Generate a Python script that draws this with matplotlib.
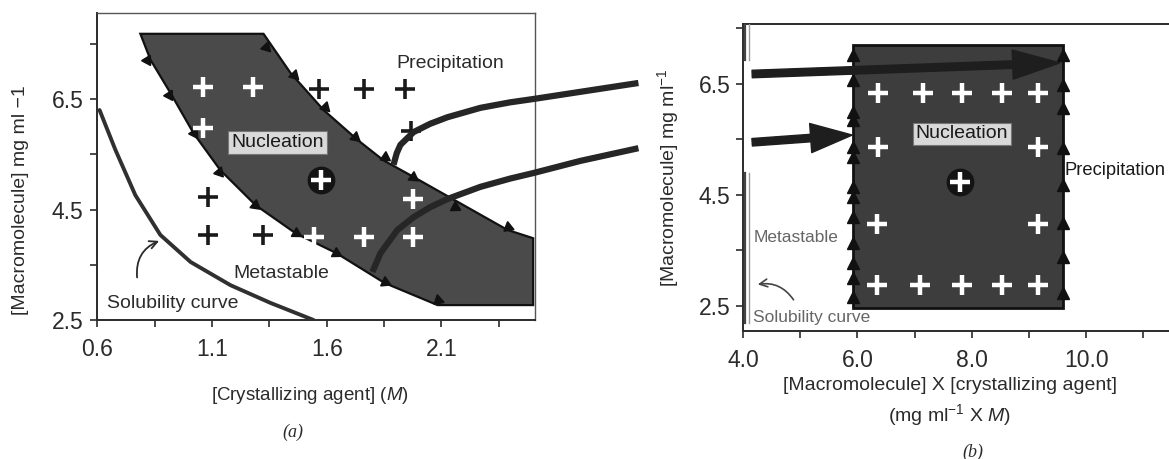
import numpy as np
import matplotlib
matplotlib.use("Agg")
import matplotlib.pyplot as plt
from matplotlib.patches import Polygon, Rectangle

plt.rcParams['font.family'] = ['Liberation Sans', 'DejaVu Sans']
plt.rcParams['mathtext.fontset'] = 'custom'
plt.rcParams['mathtext.rm'] = 'Liberation Sans'
plt.rcParams['mathtext.it'] = 'Liberation Sans:italic'

# ---------------- panel (a): [crystallizing agent] vs [macromolecule]
a_xticks = [0.6, 1.1, 1.6, 2.1]
a_xminor = [0.85, 1.35, 1.85, 2.35]
a_yticks = [2.5, 4.5, 6.5]
a_yminor = [3.5, 5.5, 7.5]

sol_x = [0.609, 0.678, 0.765, 0.874, 1.006, 1.180, 1.354, 1.542]
sol_y = [6.30, 5.58, 4.76, 4.04, 3.55, 3.13, 2.81, 2.50]

# nucleation zone outline (clockwise from top-left)
nuc_x = [0.787, 1.324, 1.442, 1.586, 1.734, 1.847, 1.978, 2.170, 2.388, 2.50,
         2.50, 2.083, 1.852, 1.642, 1.464, 1.289, 1.136, 1.019, 0.918, 0.831]
nuc_y = [7.68, 7.68, 6.97, 6.30, 5.76, 5.39, 5.09, 4.64, 4.13, 3.98,
         2.77, 2.77, 3.17, 3.71, 4.07, 4.58, 5.21, 5.88, 6.61, 7.21]

tri_up_x = [1.337, 1.455, 1.594, 1.721, 1.852, 1.978, 2.161, 2.392]
tri_up_y = [7.44, 6.93, 6.36, 5.81, 5.45, 5.09, 4.55, 4.18]
tri_lo_x = [0.814, 0.910, 1.019, 1.128, 1.289, 1.464, 1.642, 1.852, 2.087]
tri_lo_y = [7.21, 6.57, 5.88, 5.18, 4.58, 4.07, 3.71, 3.19, 2.86]

a_white_x = [1.058, 1.276, 1.058, 1.546, 1.764, 1.974, 1.974]
a_white_y = [6.72, 6.72, 5.98, 4.00, 4.00, 4.69, 4.00]
a_black_x = [1.564, 1.764, 1.943, 1.969, 1.080, 1.080, 1.320]
a_black_y = [6.68, 6.68, 6.68, 5.92, 4.73, 4.04, 4.04]
a_circle = (1.573, 5.03)

# the two thick curves leaving panel (a)
up_x = [1.891, 1.905, 1.921, 1.978, 2.050, 2.126, 2.270, 2.400, 2.501, 2.706, 2.959]
up_y = [5.31, 5.52, 5.67, 5.90, 6.05, 6.17, 6.34, 6.44, 6.50, 6.63, 6.79]
lo_x = [1.799, 1.834, 1.908, 1.978, 2.050, 2.126, 2.270, 2.400, 2.501, 2.706, 2.959]
lo_y = [3.37, 3.71, 4.13, 4.36, 4.54, 4.69, 4.91, 5.06, 5.16, 5.38, 5.61]

# ---------------- panel (b): product vs [macromolecule]
b_xticks = [4.0, 6.0, 8.0, 10.0]
b_xminor = [5.0, 7.0, 9.0, 11.0]
b_yticks = [2.5, 4.5, 6.5]
b_yminor = [3.5, 5.5, 7.5]

b_box = (5.92, 2.46, 9.59, 7.20)   # x0, y0, x1, y1
b_plus_x = [6.36, 7.15, 7.83, 8.53, 9.16, 6.36, 9.16, 6.34, 9.16,
            6.34, 7.09, 7.83, 8.53, 9.16]
b_plus_y = [6.34, 6.34, 6.34, 6.34, 6.34, 5.36, 5.36, 3.98, 3.98,
            2.88, 2.88, 2.88, 2.88, 2.88]
b_circle = (7.79, 4.73)
b_tri_left_y = [7.02, 6.57, 5.99, 5.85, 5.36, 5.18, 4.64, 4.46, 4.10, 3.64, 3.27, 3.00, 2.66]
b_tri_right_y = [7.02, 6.48, 6.07, 5.35, 4.68, 3.99, 3.38, 2.73]
b_sol_segs = [(7.58, 6.93), (4.90, 2.19)]
b_arrow_up = ((4.16, 6.68), (9.54, 6.88))
b_arrow_lo = ((4.16, 5.45), (5.91, 5.58))

W, H = 1169, 459
fig = plt.figure(figsize=(W / 100, H / 100), dpi=100)
fig.patch.set_facecolor('white')

def px_axes(l, t, r, b):
    return fig.add_axes([l / W, 1 - b / H, (r - l) / W, (b - t) / H])

ink = '#2b2b2b'

# ======== panel (a)
ax = px_axes(97.5, 13, 535, 320)
ax.set_xlim(0.6, 0.6 + (535 - 97.5) / 229.3)
ax.set_ylim(2.5, 2.5 + (320 - 13) / 55.25)
ax.set_xticks(a_xticks)
ax.set_xticklabels([f"{v:.1f}" for v in a_xticks])
ax.set_xticks(a_xminor, minor=True)
ax.set_yticks(a_yticks)
ax.set_yticklabels([f"{v:.1f}" for v in a_yticks])
ax.set_yticks(a_yminor, minor=True)
ax.tick_params(which='both', direction='out', length=5, width=1.2, color=ink)
ax.tick_params(axis='x', labelsize=16.5, pad=8, labelcolor=ink)
ax.tick_params(axis='y', labelsize=16.5, pad=5, labelcolor=ink)
for s in ['left', 'bottom']:
    ax.spines[s].set_linewidth(1.4)
    ax.spines[s].set_color(ink)
for s in ['top', 'right']:
    ax.spines[s].set_linewidth(1.0)
    ax.spines[s].set_color('#555555')

ax.add_patch(Polygon(np.column_stack([nuc_x, nuc_y]), closed=True,
                     facecolor='#4a4a4a', edgecolor='#111111', lw=1.6, zorder=2))
ax.plot(sol_x, sol_y, color='#303030', lw=2.8, solid_capstyle='round', zorder=3)

def tri_marks(axx, xs, ys):
    pts = axx.transData.transform(np.column_stack([xs, ys]))
    d = np.gradient(pts, axis=0)
    ang = np.degrees(np.arctan2(d[:, 1], d[:, 0])) - 90
    for x, y, a in zip(xs, ys, ang):
        axx.plot(x, y, marker=(3, 0, a), ms=8.5, color='#111111', zorder=4)

tri_marks(ax, tri_up_x, tri_up_y)
tri_marks(ax, tri_lo_x, tri_lo_y)

ax.plot(a_white_x, a_white_y, ls='none', marker='+', ms=14, mew=3.2, color='white', zorder=5)
ax.plot(a_black_x, a_black_y, ls='none', marker='+', ms=14, mew=2.6, color='#1a1a1a', zorder=5)
ax.plot(*a_circle, marker='o', ms=19, color='#141414', zorder=5)
ax.plot(*a_circle, marker='+', ms=14, mew=3.2, color='white', zorder=6)

ax.plot(up_x, up_y, color='#262626', lw=4.5, solid_capstyle='butt', solid_joinstyle='round',
        clip_on=False, zorder=7)
ax.plot(lo_x, lo_y, color='#262626', lw=4.5, solid_capstyle='butt', solid_joinstyle='round',
        clip_on=False, zorder=7)

ax.text(2.14, 7.15, "Precipitation", fontsize=14, color=ink, ha='center', va='center')
ax.text(1.385, 5.72, "Nucleation", fontsize=14, color='#1a1a1a', ha='center', va='center',
        zorder=8, bbox=dict(boxstyle='square,pad=0.15', facecolor='#d9d9d9', edgecolor='#777777', lw=0.8))
ax.text(1.40, 3.35, "Metastable", fontsize=14, color=ink, ha='center', va='center')
ax.text(0.93, 2.79, "Solubility curve", fontsize=14, color=ink, ha='center', va='center')
ax.annotate('', xy=(0.88, 3.95), xytext=(0.774, 3.22),
            arrowprops=dict(arrowstyle='->', color=ink, lw=1.3,
                            connectionstyle='arc3,rad=-0.4', mutation_scale=14))

fig.text(21 / W, 1 - 200 / H, "[Macromolecule] mg ml \u22121", rotation=90, fontsize=14,
         color=ink, ha='center', va='center')
fig.text(310 / W, 1 - 395 / H, "[Crystallizing agent] ($M$)", fontsize=13.5, color=ink,
         ha='center', va='center')
fig.text(293 / W, 1 - 432 / H, "(a)", fontsize=13, family='Liberation Serif', style='italic',
         color=ink, ha='center', va='center')

# ======== panel (b)
bx = px_axes(743, 24, W, 331)
bx.set_xlim(4.0, 4.0 + (W - 743) / 57.2)
bx.set_ylim(2.5 - (331 - 306) / 55.5, 2.5 + (306 - 24) / 55.5)
bx.set_xticks(b_xticks)
bx.set_xticklabels([f"{v:.1f}" for v in b_xticks])
bx.set_xticks(b_xminor, minor=True)
bx.set_yticks(b_yticks)
bx.set_yticklabels([f"{v:.1f}" for v in b_yticks])
bx.set_yticks(b_yminor, minor=True)
bx.tick_params(which='both', direction='out', length=5, width=1.2, color=ink)
bx.tick_params(axis='x', labelsize=16.5, pad=8, labelcolor=ink)
bx.tick_params(axis='y', labelsize=16.5, pad=4, labelcolor=ink)
bx.spines['right'].set_visible(False)
for s in ['left', 'bottom', 'top']:
    bx.spines[s].set_linewidth(1.4)
    bx.spines[s].set_color(ink)

x0, y0, x1, y1 = b_box
bx.add_patch(Rectangle((x0, y0), x1 - x0, y1 - y0, facecolor='#3d3d3d',
                       edgecolor='#111111', lw=2, zorder=2))
bx.plot([x0] * len(b_tri_left_y), b_tri_left_y, ls='none', marker='^', ms=8,
        color='#111111', zorder=3, clip_on=False)
bx.plot([x1] * len(b_tri_right_y), b_tri_right_y, ls='none', marker='^', ms=8,
        color='#111111', zorder=3, clip_on=False)
bx.plot(b_plus_x, b_plus_y, ls='none', marker='+', ms=14, mew=3.2, color='white', zorder=5)
bx.plot(*b_circle, marker='o', ms=19, color='#141414', zorder=5)
bx.plot(*b_circle, marker='+', ms=14, mew=3.2, color='white', zorder=6)

for ya, yb in b_sol_segs:
    bx.plot([4.04, 4.04], [ya, yb], color='#444444', lw=1.6, zorder=3)
    bx.plot([4.10, 4.10], [ya, yb], color='#9a9a9a', lw=1.0, zorder=3)

for (sx, sy), (tx, ty), hl in [(b_arrow_up[0], b_arrow_up[1], 1.7), (b_arrow_lo[0], b_arrow_lo[1], 1.5)]:
    bx.annotate('', xy=(tx, ty), xytext=(sx, sy), zorder=7,
                arrowprops=dict(arrowstyle=f'simple,head_length={hl},head_width=1.05,tail_width=0.27',
                                color='#1e1e1e', mutation_scale=20, shrinkA=0, shrinkB=0))

bx.text(7.83, 5.60, "Nucleation", fontsize=14, color='#1a1a1a', ha='center', va='center',
        zorder=8, bbox=dict(boxstyle='square,pad=0.15', facecolor='#d9d9d9', edgecolor='#777777', lw=0.8))
bx.text(9.62, 4.95, "Precipitation", fontsize=13.2, color='#1a1a1a', ha='left', va='center',
        clip_on=False)
bx.text(4.19, 3.74, "Metastable", fontsize=12.5, color='#666666', ha='left', va='center')
bx.text(4.17, 2.29, "Solubility curve", fontsize=12.5, color='#666666', ha='left', va='center')
bx.annotate('', xy=(4.21, 2.88), xytext=(4.91, 2.57),
            arrowprops=dict(arrowstyle='->', color='#444444', lw=1.2,
                            connectionstyle='arc3,rad=0.35', mutation_scale=14))

fig.text(668 / W, 1 - 178 / H, "[Macromolecule] mg ml$^{-1}$", rotation=90, fontsize=14,
         color=ink, ha='center', va='center')
fig.text(950 / W, 1 - 385 / H, "[Macromolecule] X [crystallizing agent]", fontsize=14,
         color=ink, ha='center', va='center')
fig.text(950 / W, 1 - 415 / H, "(mg ml$^{-1}$ X $M$)", fontsize=14,
         color=ink, ha='center', va='center')
fig.text(973 / W, 1 - 452 / H, "(b)", fontsize=13, family='Liberation Serif', style='italic',
         color=ink, ha='center', va='center')

fig.savefig("out.png", dpi=100, facecolor='white')
